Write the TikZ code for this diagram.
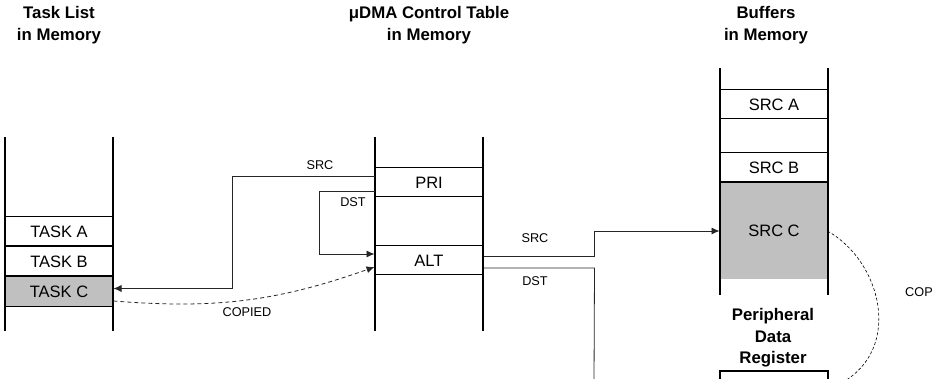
\documentclass[tikz,border=0pt]{standalone}
\usepackage{fontspec}
\setmainfont{Liberation Sans}
\usetikzlibrary{positioning,arrows.meta}
\definecolor{cellgray}{RGB}{192,192,192}

\begin{document}
\begin{tikzpicture}[
  x=1pt,y=-1pt,
  cell/.style={draw,line width=1pt,minimum width=108pt,minimum height=29pt,inner sep=0pt,font=\fontsize{16.5}{19}\selectfont},
  title/.style={align=center,font=\fontsize{16.8}{22}\selectfont\bfseries},
  lbl/.style={font=\fontsize{12.7}{15}\selectfont},
  col/.style={line width=1.2pt},
  link/.style={line width=0.8pt,draw=black!85},
  tip/.style={-{Latex[length=8pt,width=7pt]}},
  copied/.style={dash pattern=on 4pt off 3pt}
]
\useasboundingbox (0,0) rectangle (934,379);

% titles
\node[title] (tasktitle) at (59,25) {Task List\\in Memory};
\node[title] (ctltitle) at (429,25) {μDMA Control Table\\in Memory};
\node[title] (buftitle) at (766,25) {Buffers\\in Memory};
\node[title,font=\fontsize{16.8}{21.5}\selectfont\bfseries] (pertitle) at (773,338) {Peripheral\\Data\\Register};

% task list
\node[cell] (TaskA) at (59,231.5) {TASK A};
\node[cell,below=0pt of TaskA] (TaskB) {TASK B};
\node[cell,fill=cellgray,below=0pt of TaskB] (TaskC) {TASK C};
\draw[col] (5,137) -- (5,331);
\draw[col] (113,137) -- (113,331);

% control table
\node[cell] (PRI) at (429,182.5) {PRI};
\node[cell] (ALT) at (429,260.5) {ALT};
\draw[col] (375,137) -- (375,331);
\draw[col] (483,137) -- (483,331);

% buffers
\node[cell] (SrcA) at (774,104.5) {SRC A};
\node[cell] (SrcB) at (774,167.5) {SRC B};
\node[cell,draw=none,fill=cellgray,minimum height=96pt,below=0pt of SrcB] (SrcC) {SRC C};
\draw[line width=1pt] (SrcB.south west) -- (SrcB.south east);
\draw[col] (720,68) -- (720,295);
\draw[col] (828,68) -- (828,295);

% peripheral register
\draw[col] (720,382) |- (828,371) -- (828,382);

% links
\coordinate (dstend) at (594,382);
\coordinate (copyend) at (843,382);
\draw[link,tip] ([yshift=6.5pt]PRI.west) -- ++(-142,0) |- ([yshift=3pt]TaskC.east);
\draw[link,tip] ([yshift=-8.5pt]PRI.west) -- ++(-55,0) |- ([yshift=6.5pt]ALT.west);
\draw[link,tip,copied] ([yshift=-9.5pt]TaskC.east) to[bend right=12] ([yshift=-6.5pt]ALT.west);
\draw[link,tip] ([yshift=4.5pt]ALT.east) -- ++(111,0) |- (SrcC.west);
\draw[link] ([yshift=-7.5pt]ALT.east) -- ++(111,0) -- (dstend);
\draw[line width=0.6pt,dash pattern=on 3pt off 2pt] ([xshift=-1pt]SrcC.east) .. controls (882,262) and (902,348) .. (copyend);

% labels
\node[lbl] (srcA) at (320,165) {SRC};
\node[lbl] (dstA) at (353,202) {DST};
\node[lbl] (srcB) at (535,238) {SRC};
\node[lbl] (dstB) at (535,281) {DST};
\node[lbl] (copA) at (247,312) {COPIED};
\node[lbl,anchor=west,inner sep=0pt] (copB) at (905,292) {COP};
\end{tikzpicture}
\end{document}
